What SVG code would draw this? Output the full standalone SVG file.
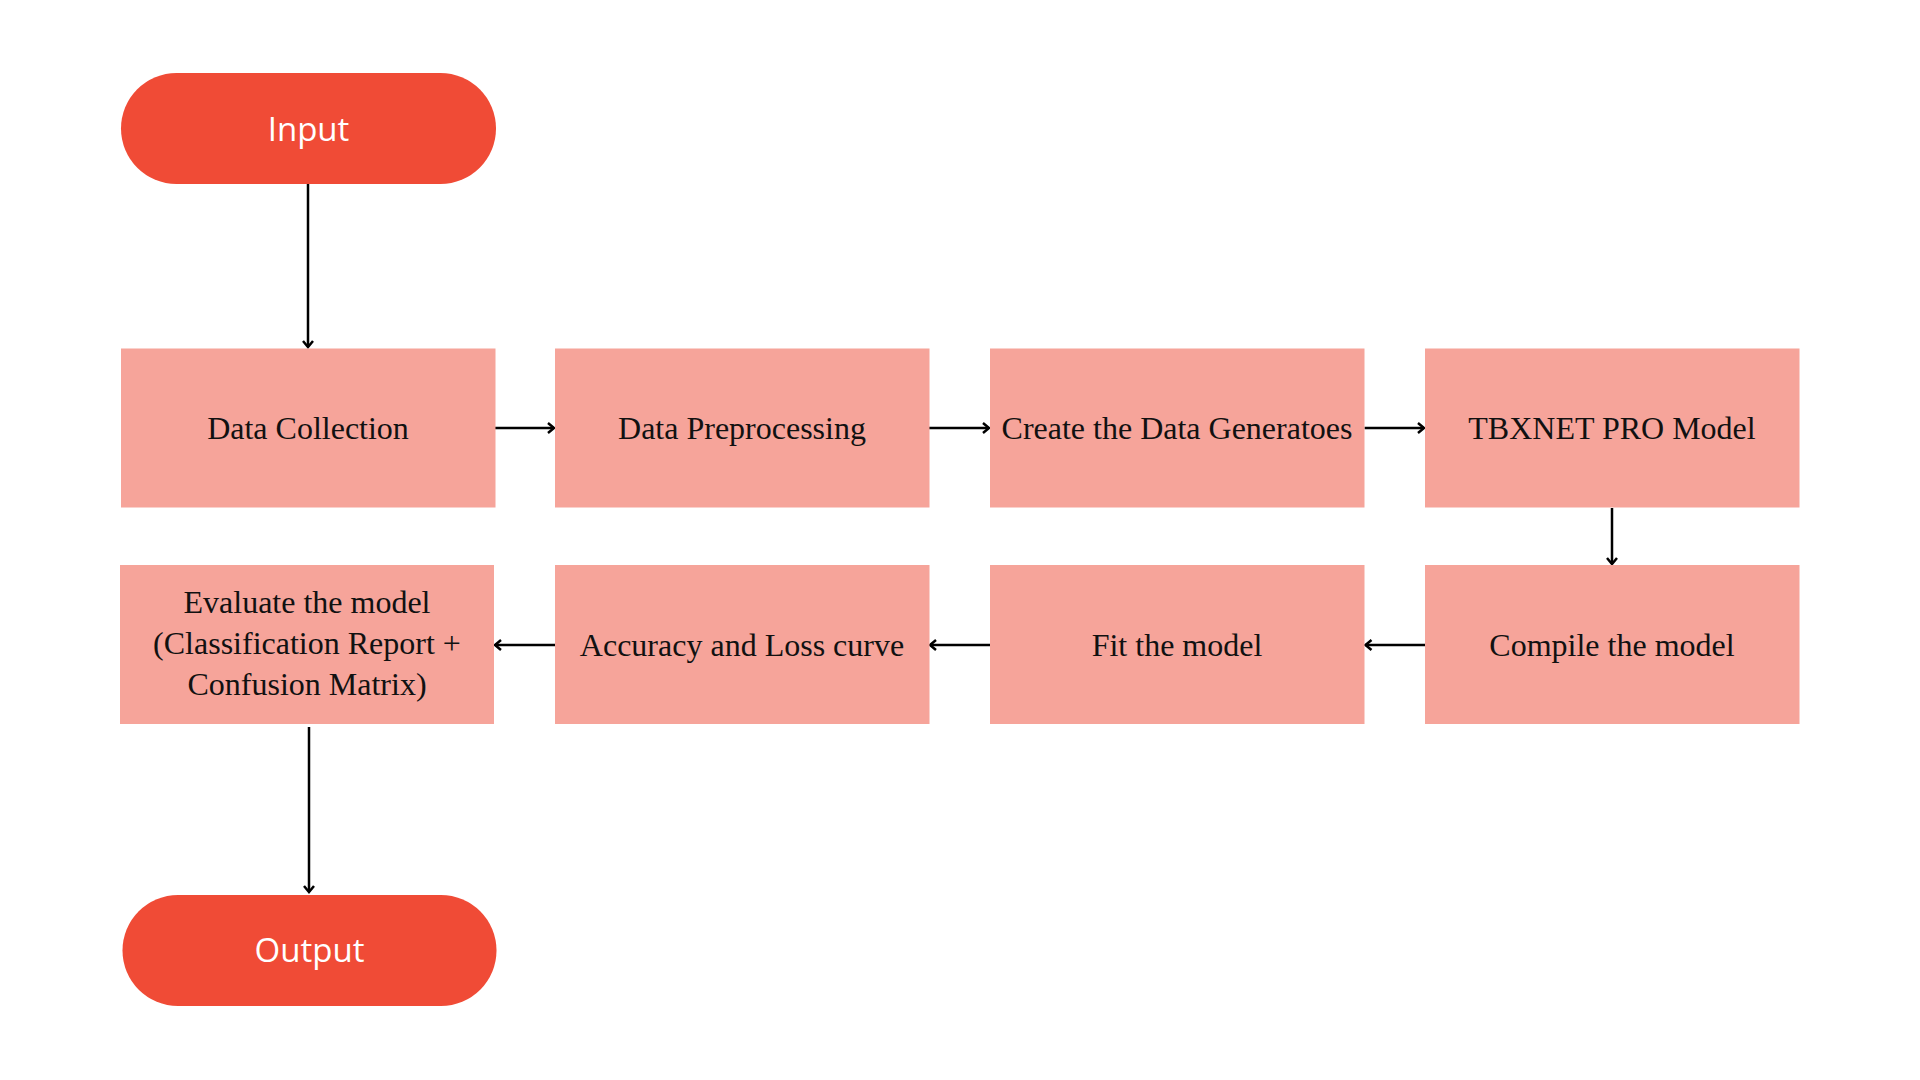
<svg xmlns="http://www.w3.org/2000/svg" width="1920" height="1080" viewBox="0 0 1920 1080">
  <style>
    .pill { fill: #F04B36; }
    .box { fill: #F6A49A; }
    .pt { font-family: "Open Sans", "Noto Sans", sans-serif; font-size: 33px; fill: #ffffff; text-anchor: middle; }
    .bt { font-family: "Liberation Serif", "DejaVu Serif", serif; font-size: 32px; fill: #111111; text-anchor: middle; }
    .conn { stroke: #000000; stroke-width: 2.5; fill: none; marker-end: url(#arrow); }
  </style>
  <defs>
    <marker id="arrow" markerUnits="userSpaceOnUse" markerWidth="12" markerHeight="14" refX="7" refY="6" orient="auto">
      <path d="M1,1 L7,6 L1,11" fill="none" stroke="#000000" stroke-width="2.5"/>
    </marker>
  </defs>
  <rect width="1920" height="1080" fill="#ffffff"/>

  <g id="connectors">
    <line class="conn" x1="308" y1="184" x2="308" y2="347"/>
    <line class="conn" x1="495" y1="428" x2="554" y2="428"/>
    <line class="conn" x1="929" y1="428" x2="989" y2="428"/>
    <line class="conn" x1="1364.5" y1="428" x2="1424" y2="428"/>
    <line class="conn" x1="1612" y1="508" x2="1612" y2="564"/>
    <line class="conn" x1="1425" y1="645" x2="1365.5" y2="645"/>
    <line class="conn" x1="990" y1="645" x2="930" y2="645"/>
    <line class="conn" x1="555" y1="645" x2="495" y2="645"/>
    <line class="conn" x1="309" y1="727" x2="309" y2="892"/>
  </g>

  <g id="input">
    <rect class="pill" x="121" y="73" width="375" height="111" rx="55.5"/>
    <text class="pt" x="308.5" y="141">Input</text>
  </g>
  <g id="data-collection">
    <rect class="box" x="121" y="348.5" width="374.5" height="159"/>
    <text class="bt" x="308" y="439">Data Collection</text>
  </g>
  <g id="data-preprocessing">
    <rect class="box" x="555" y="348.5" width="374.5" height="159"/>
    <text class="bt" x="742" y="439">Data Preprocessing</text>
  </g>
  <g id="create-data-generators">
    <rect class="box" x="990" y="348.5" width="374.5" height="159"/>
    <text class="bt" x="1177" y="439">Create the Data Generatoes</text>
  </g>
  <g id="tbxnet-model">
    <rect class="box" x="1425" y="348.5" width="374.5" height="159"/>
    <text class="bt" x="1612" y="439">TBXNET PRO Model</text>
  </g>
  <g id="compile-model">
    <rect class="box" x="1425" y="565" width="374.5" height="159"/>
    <text class="bt" x="1612" y="656">Compile the model</text>
  </g>
  <g id="fit-model">
    <rect class="box" x="990" y="565" width="374.5" height="159"/>
    <text class="bt" x="1177" y="656">Fit the model</text>
  </g>
  <g id="accuracy-loss">
    <rect class="box" x="555" y="565" width="374.5" height="159"/>
    <text class="bt" x="742" y="656">Accuracy and Loss curve</text>
  </g>
  <g id="evaluate-model">
    <rect class="box" x="120" y="565" width="374" height="159"/>
    <text class="bt" x="307" y="613">Evaluate the model</text>
    <text class="bt" x="307" y="654">(Classification Report +</text>
    <text class="bt" x="307" y="695">Confusion Matrix)</text>
  </g>
  <g id="output">
    <rect class="pill" x="122.5" y="895" width="374" height="111" rx="55.5"/>
    <text class="pt" x="309.5" y="962">Output</text>
  </g>
</svg>
